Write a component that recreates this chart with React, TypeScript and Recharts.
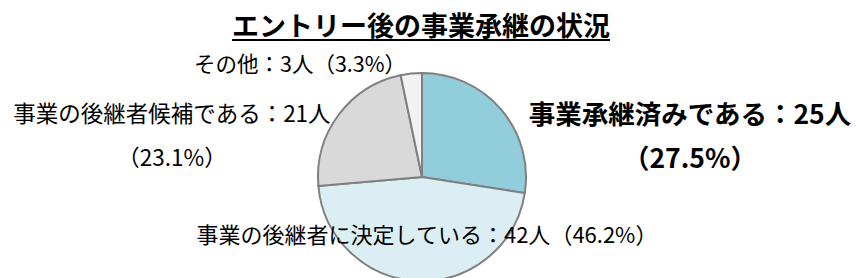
import React from "react";
import { PieChart, Pie, Cell } from "recharts";

const title = "エントリー後の事業承継の状況";
const categories = [
  "事業承継済みである",
  "事業の後継者に決定している",
  "事業の後継者候補である",
  "その他",
];
const counts = [25, 42, 21, 3];
const colors = ["#92CDDC", "#DAEEF3", "#D9D9D9", "#F2F2F2"];

const total = counts.reduce((a, b) => a + b, 0);
const data = categories.map((name, i) => ({ name, value: counts[i] }));

const FONT = '"Noto Sans CJK JP", "Noto Sans", sans-serif';

// label placement relative to pie centre, per slice
const labelLayout = [
  { dx: 268, dy: -65, gap: 44, bold: true, size: 26.5, split: true },
  { dx: 5, dy: 56, gap: 0, bold: false, size: 22, split: false },
  { dx: -250, dy: -65, gap: 44, bold: false, size: 22.5, split: true },
  { dx: -122, dy: -115, gap: 0, bold: false, size: 21.5, split: false },
];

const renderLabel = (props: any) => {
  const { cx, cy, index, name, value } = props;
  const l = labelLayout[index];
  const pct = ((value / total) * 100).toFixed(1);
  const main = `${name}：${value}人`;
  const sub = `（${pct}%）`;
  const common = {
    textAnchor: "middle" as const,
    dominantBaseline: "central" as const,
    fontFamily: FONT,
    fontSize: l.size,
    fontWeight: l.bold ? 700 : 400,
    fill: "#000",
  };
  if (l.split) {
    return (
      <g>
        <text x={cx + l.dx} y={cy + l.dy} {...common}>
          {main}
        </text>
        <text x={cx + l.dx} y={cy + l.dy + l.gap} {...common}>
          {sub}
        </text>
      </g>
    );
  }
  return (
    <text x={cx + l.dx} y={cy + l.dy} {...common}>
      {main}
      {sub}
    </text>
  );
};

export default function App() {
  return (
    <div
      style={{
        position: "absolute",
        left: 0,
        top: 0,
        width: 856,
        height: 278,
        background: "#fff",
        overflow: "hidden",
      }}
    >
      <PieChart width={856} height={278} margin={{ top: 0, right: 0, bottom: 0, left: 0 }}>
        <Pie
          data={data}
          dataKey="value"
          nameKey="name"
          cx={422}
          cy={177}
          outerRadius={104}
          startAngle={90}
          endAngle={-270}
          stroke="#808080"
          strokeWidth={2}
          label={renderLabel}
          labelLine={false}
          isAnimationActive={false}
        >
          {data.map((d, i) => (
            <Cell key={d.name} fill={colors[i]} />
          ))}
        </Pie>
      </PieChart>
      <div
        style={{
          position: "absolute",
          left: 0,
          width: 842,
          top: 9,
          textAlign: "center",
          fontFamily: FONT,
          fontSize: 27,
          fontWeight: 700,
          lineHeight: "32px",
          textDecoration: "underline",
          textDecorationThickness: 2,
          textUnderlineOffset: 3,
          color: "#000",
        }}
      >
        {title}
      </div>
    </div>
  );
}
